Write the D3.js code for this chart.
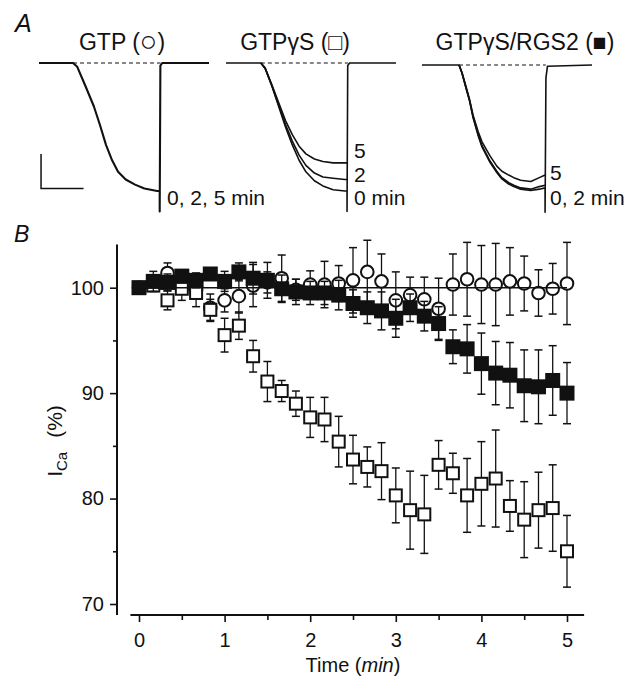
<!DOCTYPE html>
<html><head><meta charset="utf-8">
<script src="https://cdn.jsdelivr.net/npm/d3@7/dist/d3.min.js"></script>
<style>
body{margin:0;background:#fff}
svg{display:block}
text{font-family:"Liberation Sans",Arial,Helvetica,sans-serif;fill:#111}
</style>
</head><body>
<svg id="c" width="640" height="680"></svg>
<script>
// ---------- Panel B data ----------
const timeMin = [0,0.167,0.333,0.5,0.667,0.833,1,1.167,1.333,1.5,1.667,1.833,2,2.167,2.333,2.5,2.667,2.833,3,3.167,3.333,3.5,3.667,3.833,4,4.167,4.333,4.5,4.667,4.833,5];
const gtpMean   = [100,100.3,101.4,100.0,99.8,98.1,98.8,99.2,100.2,100.5,100.9,99.8,100.3,100.3,100.4,100.7,101.5,100.6,98.8,99.3,98.9,98.0,100.3,100.8,100.3,100.3,100.6,100.4,99.5,99.9,100.4];
const gtpErr    = [0,0.5,0.95,0.5,0.6,1.3,1.1,1.6,2.0,1.0,2.2,1.0,1.3,2.2,1.7,3.1,3.0,2.6,2.7,1.7,2.1,2.9,2.9,3.5,3.7,3.9,3.2,2.6,2.2,2.4,3.9];
const gtpgsMean = [100,100.2,98.8,99.9,99.5,97.9,95.5,96.4,93.5,91.1,90.2,89.0,87.7,87.5,85.4,83.7,83.0,82.6,80.3,78.9,78.5,83.2,82.4,80.3,81.4,81.9,79.3,78.0,78.9,79.1,75.0];
const gtpgsErr  = [0,0.5,0.9,1.1,1.3,1.0,1.6,1.3,1.5,1.9,1.0,1.2,1.9,2.1,2.4,2.3,1.9,2.7,2.6,3.7,3.7,2.3,1.9,3.5,4.0,4.6,2.4,3.6,3.6,4.1,3.4];
const rgs2Mean  = [100,100.6,100.5,101.1,100.7,101.3,100.6,101.5,100.9,100.7,99.9,99.6,99.5,99.5,99.3,98.5,98.1,97.8,97.1,98.1,97.3,96.6,94.4,94.2,92.8,91.9,91.7,90.7,90.6,91.2,90.0];
const rgs2Err   = [0,0.95,0.8,0.65,0.7,0.65,0.95,0.85,1.5,1.7,1.3,1.2,1.1,1.1,1.4,1.3,1.5,1.8,1.8,1.3,1.4,1.6,1.6,2.3,2.9,3.0,3.1,3.4,3.5,3.3,2.9];
const xTicks = [0,1,2,3,4,5];
const xMinorTicks = [0.5,1.5,2.5,3.5,4.5];
const yTicks = [70,80,90,100];
const yMinorTicks = [75,85,95];
const controlLevel = [100];

// ---------- Panel A data (time units, normalized current) ----------
const titleNames = ["GTP", "GTP\u03B3S", "GTP\u03B3S/RGS2"];
const titleSymbols = ["\u25CB", "\u25A1", "\u25A0"];
const gtpTrace0 = [[0,0],[20,0],[22.5,-0.03],[27,-0.17],[32.3,-0.34],[36,-0.49],[39.4,-0.64],[43,-0.76],[46.5,-0.85],[51,-0.91],[56.5,-0.95],[62,-0.98],[69.5,-1.0],[71,-1.0],[71,-1.16],[71.4,-0.02],[72.5,0],[100,0]];
const gtpgsTrace0 = [[0,0],[20.5,0],[23,-0.04],[27,-0.18],[31,-0.34],[35,-0.5],[39,-0.64],[43,-0.76],[47,-0.85],[52,-0.92],[57,-0.96],[63,-0.99],[70,-1.0],[71.2,-1.0],[71.2,-1.16],[71.6,-0.02],[72.7,0],[100,0]];
const gtpgsTrace2 = [[20.5,0],[23,-0.04],[27,-0.18],[31,-0.33],[35,-0.48],[39,-0.61],[43,-0.72],[47,-0.8],[52,-0.86],[57,-0.89],[63,-0.9],[70,-0.91],[71.2,-0.91]];
const gtpgsTrace5 = [[20.5,0],[23,-0.04],[27,-0.17],[31,-0.31],[35,-0.45],[39,-0.56],[43,-0.65],[47,-0.71],[52,-0.75],[57,-0.77],[63,-0.78],[70,-0.78],[71.2,-0.78]];
const rgsTrace0 = [[0,0],[21.8,0],[23.5,-0.06],[25.3,-0.15],[28,-0.28],[30,-0.41],[33,-0.55],[35.3,-0.64],[40,-0.76],[44,-0.84],[47,-0.89],[51,-0.93],[54,-0.95],[58,-0.97],[64,-0.98],[69,-0.97],[72.4,-0.96],[72.4,-1.15],[72.9,-0.1],[73.8,-0.01],[100,0]];
const rgsTrace2 = [[21.8,0],[23.5,-0.06],[25.3,-0.15],[28,-0.28],[30,-0.4],[33,-0.54],[35.3,-0.63],[40,-0.75],[44,-0.83],[47,-0.88],[51,-0.92],[54,-0.94],[58,-0.96],[64,-0.97],[69,-0.95],[72.4,-0.94]];
const rgsTrace5 = [[21.8,0],[23.5,-0.06],[25.3,-0.14],[28,-0.27],[30,-0.39],[33,-0.52],[35.3,-0.6],[40,-0.71],[44,-0.79],[47,-0.83],[51,-0.86],[54,-0.88],[58,-0.9],[64,-0.91],[69,-0.88],[72.4,-0.86]];
const dashSpans = [[20,71.5],[20.5,71.7],[21.8,72.8]];
const scaleBar = [1.2, 26.2, -0.98, -0.71]; // t0, t1, i0, i1 (in trace units)

const svg = d3.select("#c");

// ---------- Panel A ----------
svg.append("text").attr("x",15).attr("y",32).attr("font-size",25).attr("font-style","italic").text("A");

const blocks = [
  {x0:39, y0:63, traces:[gtpTrace0], dash:dashSpans[0], tcx:122},
  {x0:226, y0:63, traces:[gtpgsTrace0,gtpgsTrace2,gtpgsTrace5], dash:dashSpans[1], tcx:295},
  {x0:422, y0:65, traces:[rgsTrace0,rgsTrace2,rgsTrace5], dash:dashSpans[2], tcx:525}
];
blocks.forEach((b,bi)=>{
  const tx = d3.scaleLinear().domain([0,100]).range([b.x0,b.x0+170]);
  const ty = d3.scaleLinear().domain([-1.2,0]).range([b.y0+1.2*128,b.y0]);
  const line = d3.line().x(d=>tx(d[0])).y(d=>ty(d[1]));
  const t = svg.append("text").attr("x",b.tcx).attr("y",50).attr("text-anchor","middle").attr("font-size",23);
  t.append("tspan").text(titleNames[bi] + " (");
  t.append("tspan").attr("font-size", bi===0 ? 29 : 23).attr("dy", bi===0 ? 1 : 0).text(titleSymbols[bi]);
  t.append("tspan").attr("dy", bi===0 ? -1 : 0).text(")");
  svg.append("line").attr("x1",tx(b.dash[0])).attr("x2",tx(b.dash[1]))
    .attr("y1",ty(0)).attr("y2",ty(0)).attr("stroke","#111").attr("stroke-width",1.1)
    .attr("stroke-dasharray","4,3");
  b.traces.forEach(tr=>{
    svg.append("path").attr("d",line(tr)).attr("fill","none").attr("stroke","#111")
      .attr("stroke-width",bi===0?2.1:1.6).attr("stroke-linejoin","round");
  });
  b.tx = tx; b.ty = ty;
});
// scale bar under first trace
{
  const tx = blocks[0].tx, ty = blocks[0].ty;
  svg.append("path").attr("d",`M${tx(scaleBar[0])},${ty(scaleBar[3])}V${ty(scaleBar[2])}H${tx(scaleBar[1])}`)
    .attr("fill","none").attr("stroke","#111").attr("stroke-width",1.5);
}
// trace labels
const lab = (x,y,t)=>svg.append("text").attr("x",x).attr("y",y).attr("font-size",21).text(t);
lab(167,205,"0, 2, 5 min");
lab(354,158,"5"); lab(354,182,"2"); lab(354,205,"0 min");
lab(550,180,"5"); lab(550,205,"0, 2 min");

// ---------- Panel B ----------
svg.append("text").attr("x",14).attr("y",242).attr("font-size",23).attr("font-style","italic").text("B");

const x = d3.scaleLinear().domain([0,5]).range([139,567]);
const y = d3.scaleLinear().domain([70,100]).range([604,287.7]);
const axY = 117, axX = 615;

// y axis
const gy = svg.append("g").attr("transform",`translate(${axY},0)`);
gy.append("line").attr("x1",0).attr("x2",0).attr("y1",y(104.1)).attr("y2",y(68.95)).attr("stroke","#111").attr("stroke-width",2);
gy.call(g=>{
  const ax = d3.axisLeft(y).tickValues(yTicks).tickSize(7).tickPadding(6);
  g.append("g").call(ax);
  const axm = d3.axisLeft(y).tickValues(yMinorTicks).tickSize(4).tickFormat("");
  g.append("g").call(axm);
  g.selectAll(".domain").remove();
  g.selectAll(".tick line").attr("stroke","#111").attr("stroke-width",1.6);
  g.selectAll(".tick text").attr("font-size",20).attr("font-family","Liberation Sans, Arial, sans-serif").attr("fill","#111");
});

// x axis
const gx = svg.append("g").attr("transform",`translate(0,${axX})`);
gx.append("line").attr("x1",x(-0.1)).attr("x2",x(5.2)).attr("y1",0).attr("y2",0).attr("stroke","#111").attr("stroke-width",2);
gx.call(g=>{
  const ax = d3.axisBottom(x).tickValues(xTicks).tickSize(7).tickPadding(11).tickFormat(d3.format("d"));
  g.append("g").call(ax);
  const axm = d3.axisBottom(x).tickValues(xMinorTicks).tickSize(5).tickFormat("");
  g.append("g").call(axm);
  g.selectAll(".domain").remove();
  g.selectAll(".tick line").attr("stroke","#111").attr("stroke-width",1.6);
  g.selectAll(".tick text").attr("font-size",20).attr("font-family","Liberation Sans, Arial, sans-serif").attr("fill","#111");
});

// axis titles
const xt = svg.append("text").attr("x",x(2.5)).attr("y",672).attr("text-anchor","middle").attr("font-size",20);
xt.append("tspan").text("Time (");
xt.append("tspan").attr("font-style","italic").text("min");
xt.append("tspan").text(")");

const yt = svg.append("text").attr("transform",`translate(62,441) rotate(-90)`).attr("text-anchor","middle").attr("font-size",21);
yt.append("tspan").text("I");
yt.append("tspan").attr("font-size",15).attr("dy",5).text("Ca");
yt.append("tspan").attr("dy",-5).attr("dx",14).text("(%)");

// series
const series = [
  {mean:gtpMean, err:gtpErr, shape:"circle", fill:"#fff", half:6.3},
  {mean:gtpgsMean, err:gtpgsErr, shape:"square", fill:"#fff", half:6},
  {mean:rgs2Mean, err:rgs2Err, shape:"square", fill:"#111", half:6.5}
];
const plot = svg.append("g");
series.forEach(s=>{
  const g = plot.append("g");
  timeMin.forEach((t,i)=>{
    const cx = x(t), cy = y(s.mean[i]);
    const up = y(s.mean[i]+s.err[i]), dn = y(s.mean[i]-s.err[i]);
    if (cy - up > s.half + 0.5) {
      g.append("line").attr("x1",cx).attr("x2",cx).attr("y1",up).attr("y2",cy).attr("stroke","#111").attr("stroke-width",1.3);
      g.append("line").attr("x1",cx-4).attr("x2",cx+4).attr("y1",up).attr("y2",up).attr("stroke","#111").attr("stroke-width",1.5);
      g.append("line").attr("x1",cx).attr("x2",cx).attr("y1",cy).attr("y2",dn).attr("stroke","#111").attr("stroke-width",1.3);
      g.append("line").attr("x1",cx-4).attr("x2",cx+4).attr("y1",dn).attr("y2",dn).attr("stroke","#111").attr("stroke-width",1.5);
    }
  });
  timeMin.forEach((t,i)=>{
    const cx = x(t), cy = y(s.mean[i]);
    if (s.shape==="circle") {
      g.append("circle").attr("cx",cx).attr("cy",cy).attr("r",s.half).attr("fill",s.fill).attr("stroke","#111").attr("stroke-width",2);
    } else {
      g.append("rect").attr("x",cx-s.half).attr("y",cy-s.half).attr("width",2*s.half).attr("height",2*s.half)
        .attr("fill",s.fill).attr("stroke","#111").attr("stroke-width",2);
    }
  });
});
// control reference line at 100 %
svg.append("g").selectAll("line").data(controlLevel).join("line")
  .attr("x1",x(0)).attr("x2",x(5)).attr("y1",d=>y(d)).attr("y2",d=>y(d))
  .attr("stroke","#111").attr("stroke-width",1.5);
</script>
</body></html>
